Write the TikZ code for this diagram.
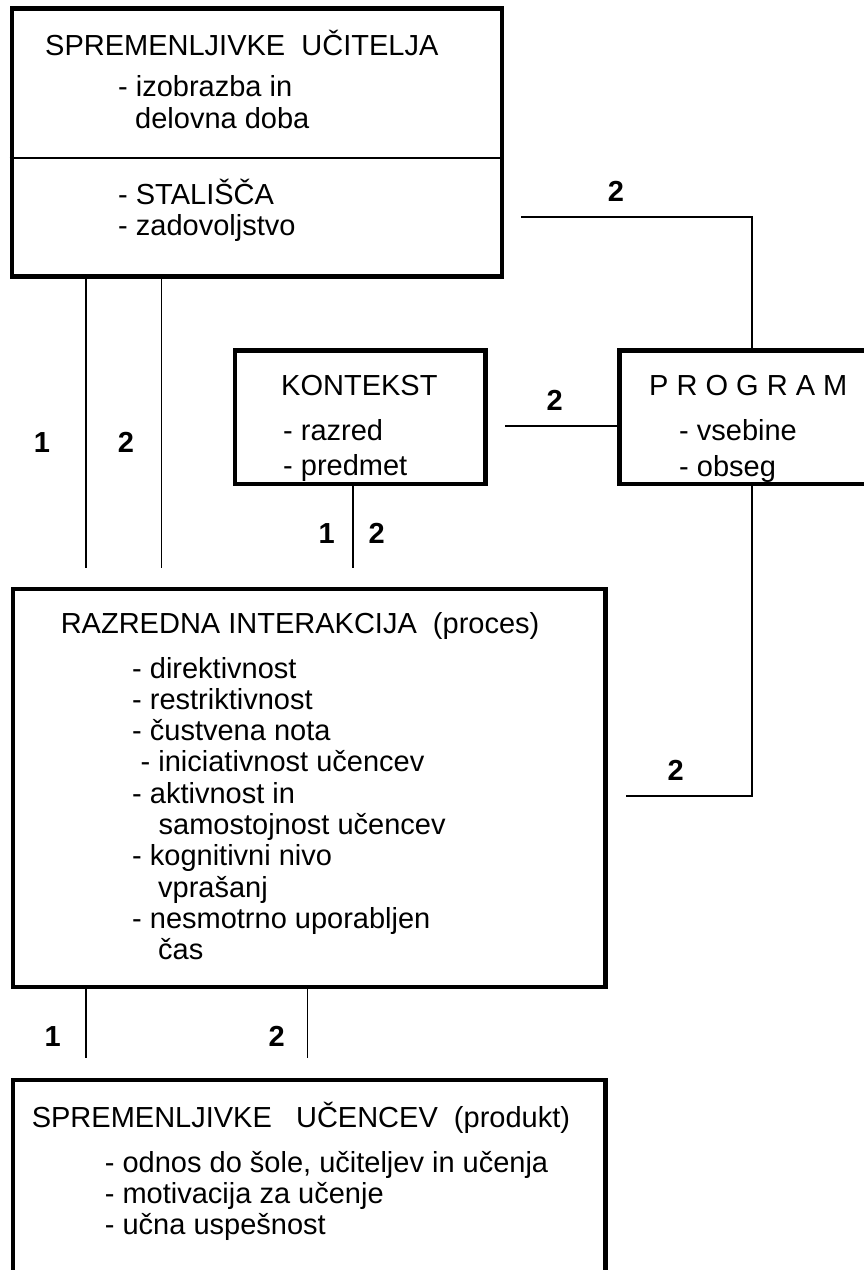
\documentclass[tikz,border=0pt]{standalone}
\usepackage{fontspec}
\setmainfont{Liberation Sans}
\begin{document}
\begin{tikzpicture}[x=1pt,y=-1pt,
  box/.style={draw, line width=4.8pt, inner sep=0pt},
  conn/.style={line width=1.8pt},
  txt/.style={anchor=base west, inner sep=0pt, font=\fontsize{29}{31}\selectfont},
  num/.style={anchor=base, inner sep=0pt, font=\fontsize{29}{31}\selectfont\bfseries}]

\useasboundingbox (0,0) rectangle (864,1270);
\clip (0,0) rectangle (864,1270);

% boxes
\node[box, minimum width=490pt, minimum height=268pt] (teacher) at (257,142.5) {};
\node[box, minimum width=250.5pt, minimum height=133.5pt] (context) at (360.25,417.25) {};
\node[box, minimum width=270.5pt, minimum height=133.5pt] (program) at (754.75,417.25) {};
\node[box, minimum width=592.5pt, minimum height=398pt] (interaction) at (309.25,788) {};
\node[box, minimum width=592.5pt, minimum height=220pt] (students) at (309.25,1190) {};

% divider inside the teacher box
\coordinate (dv) at (0,158);
\draw[line width=2pt] (teacher.west |- dv) -- (teacher.east |- dv);

% teacher box text
\node[txt] (tt) at (45,55) {SPREMENLJIVKE\ \ UČITELJA};
\node[txt] (ta) at (118,96.7) {- izobrazba in};
\node[txt] (tb) at (135,128) {delovna doba};
\node[txt] (tc) at (118,204) {- STALIŠČA};
\node[txt] (td) at (118,235) {- zadovoljstvo};

% context box text
\node[txt] (kt) at (281,395.7) {KONTEKST};
\node[txt] (ka) at (283,440) {- razred};
\node[txt] (kb) at (283,475) {- predmet};

% program box text
\node[txt] (pt) at (649,395.7) {P R O G R A M};
\node[txt] (pa) at (679,440) {- vsebine};
\node[txt] (pbx) at (679,476) {- obseg};

% interaction box text
\node[txt] (it) at (60.6,633) {RAZREDNA INTERAKCIJA\ \ (proces)};
\node[txt] (i1) at (132,678) {- direktivnost};
\node[txt] (i2) at (132,709.3) {- restriktivnost};
\node[txt] (i3) at (132,740.6) {- čustvena nota};
\node[txt] (i4) at (140.5,771.9) {- iniciativnost učencev};
\node[txt] (i5) at (132,803.2) {- aktivnost in};
\node[txt] (i6) at (158.5,834.5) {samostojnost učencev};
\node[txt] (i7) at (132,865.8) {- kognitivni nivo};
\node[txt] (i8) at (158,897.1) {vprašanj};
\node[txt] (i9) at (132,928.4) {- nesmotrno uporabljen};
\node[txt] (i10) at (158,959.7) {čas};

% students box text
\node[txt] (st) at (31.6,1127) {SPREMENLJIVKE\ \ \ UČENCEV\ \ (produkt)};
\node[txt] (s1) at (104.7,1172) {- odnos do šole, učiteljev in učenja};
\node[txt] (s2) at (104.7,1203) {- motivacija za učenje};
\node[txt] (s3) at (104.7,1234) {- učna uspešnost};

% free ends of the connectors
\coordinate (ta1) at (86,568);
\coordinate (ta2) at (161.5,568);
\coordinate (tp) at (521,216.7);
\coordinate (pv) at (752,216.7);
\coordinate (kp) at (505.4,425.7);
\coordinate (kd) at (352.7,568);
\coordinate (pd) at (752,795.7);
\coordinate (pe) at (625.7,795.7);
\coordinate (is1) at (86,1058);
\coordinate (is2) at (307.5,1058);

% connectors
\draw[conn] (teacher.south -| ta1) -- (ta1);
\draw[conn] (teacher.south -| ta2) -- (ta2);
\draw[conn] (tp) -- (pv) -- (pv |- program.north);
\draw[conn] (kp) -- (kp -| program.west);
\draw[conn] (context.south -| kd) -- (kd);
\draw[conn] (pv |- program.south) -- (pd) -- (pe);
\draw[conn] (interaction.south -| is1) -- (is1);
\draw[conn] (interaction.south -| is2) -- (is2);

% connector labels
\node[num] (n1) at (42,452) {1};
\node[num] (n2) at (126,452) {2};
\node[num] (n3) at (616,201) {2};
\node[num] (n4) at (554.7,410) {2};
\node[num] (n5) at (326.7,543) {1};
\node[num] (n6) at (376.7,543) {2};
\node[num] (n7) at (675.7,780) {2};
\node[num] (n8) at (52.6,1046.7) {1};
\node[num] (n9) at (276.7,1046.7) {2};

\end{tikzpicture}
\end{document}
